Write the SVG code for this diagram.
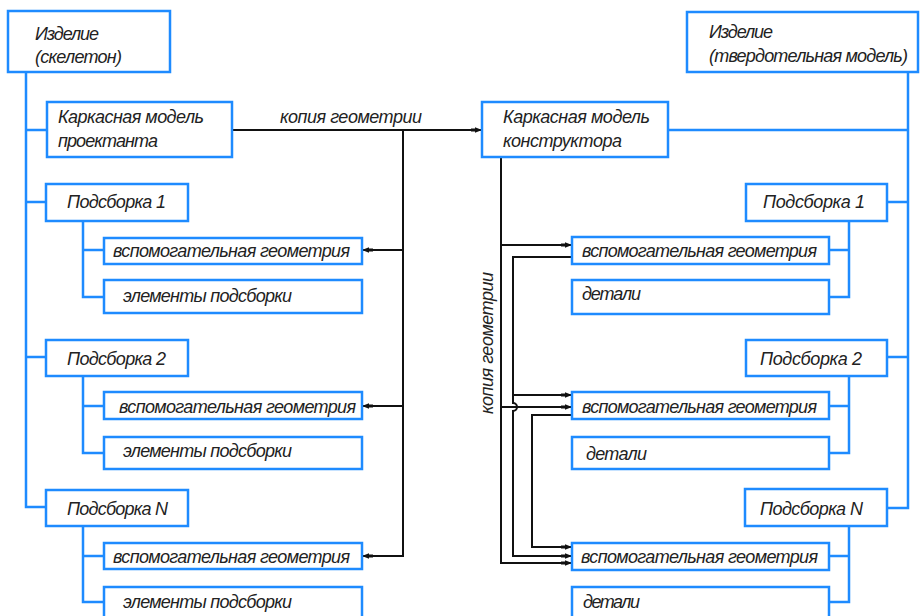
<svg xmlns="http://www.w3.org/2000/svg" width="920" height="616" viewBox="0 0 920 616">
<style>
.box{fill:#fff;stroke:#1e8bff;stroke-width:2.5}
.tree{fill:none;stroke:#1e8bff;stroke-width:2.5}
.ln{fill:none;stroke:#111;stroke-width:2}
text{font-family:"Liberation Sans",Arial,sans-serif;font-style:italic;font-size:18px;fill:#222}
</style>
<defs>
<marker id="ah" markerUnits="userSpaceOnUse" markerWidth="11" markerHeight="6" refX="11" refY="3" orient="auto">
<path d="M0,1.5 L4,1.5 L4,0.3 L11,3 L4,5.7 L4,4.5 L0,4.5 z" fill="#111"/>
</marker>
</defs>
<rect width="920" height="616" fill="#fff"/>
<g id="connectors">
<path class="tree" d="M26,72 V507 H46 M26,130 H47 M26,202 H46 M26,357 H46"/>
<path class="tree" d="M83,221 V297 H104 M83,250 H104"/>
<path class="tree" d="M83,376 V453 H104 M83,406 H104"/>
<path class="tree" d="M83,526 V602 H104 M83,556 H104"/>
<path class="tree" d="M908,72 V508 H887 M668,130 H908 M887,202 H908 M887,357 H908"/>
<path class="tree" d="M849,221 V297 H829 M849,250 H829"/>
<path class="tree" d="M849,376 V453 H829 M849,406 H829"/>
<path class="tree" d="M849,526 V602 H829 M849,556 H829"/>
<path class="ln" d="M232,130 H482" marker-end="url(#ah)"/>
<path class="ln" d="M403,130 V556 H362" marker-end="url(#ah)"/>
<path class="ln" d="M403,250 H362" marker-end="url(#ah)"/>
<path class="ln" d="M403,406 H362" marker-end="url(#ah)"/>
<path class="ln" d="M501,157 V563 H572" marker-end="url(#ah)"/>
<path class="ln" d="M501,245 H572" marker-end="url(#ah)"/>
<path class="ln" d="M501,407 H572" marker-end="url(#ah)"/>
<path class="ln" d="M572,257 H513 V403 A4,4 0 0 1 513,411 V556 H572" marker-end="url(#ah)"/>
<path class="ln" d="M513,395 H572" marker-end="url(#ah)"/>
<path class="ln" d="M572,415 H532 V547 H572" marker-end="url(#ah)"/>
<text x="280" y="123" textLength="142" lengthAdjust="spacing">копия геометрии</text>
<text transform="translate(493,343) rotate(-90)" text-anchor="middle" textLength="142" lengthAdjust="spacing">копия геометрии</text>
</g>
<g id="izdelie-skeleton">
<rect class="box" x="8" y="11" width="162" height="61"/>
<text x="35" y="40" textLength="64" lengthAdjust="spacing">Изделие</text>
<text x="35" y="63" textLength="87" lengthAdjust="spacing">(скелетон)</text>
</g>
<g id="karkas-proektant">
<rect class="box" x="47" y="102" width="185" height="55"/>
<text x="58" y="123" textLength="146" lengthAdjust="spacing">Каркасная модель</text>
<text x="58" y="147" textLength="100" lengthAdjust="spacing">проектанта</text>
</g>
<g id="L-sub1">
<rect class="box" x="46" y="184" width="142" height="37"/>
<text x="67" y="208" textLength="99" lengthAdjust="spacing">Подсборка 1</text>
</g>
<g id="L-geo1">
<rect class="box" x="104" y="238" width="258" height="26"/>
<text x="113" y="257" textLength="237" lengthAdjust="spacing">вспомогательная геометрия</text>
</g>
<g id="L-el1">
<rect class="box" x="104" y="280" width="258" height="33"/>
<text x="123" y="302" textLength="169" lengthAdjust="spacing">элементы подсборки</text>
</g>
<g id="L-sub2">
<rect class="box" x="46" y="340" width="142" height="36"/>
<text x="67" y="365" textLength="99" lengthAdjust="spacing">Подсборка 2</text>
</g>
<g id="L-geo2">
<rect class="box" x="104" y="392" width="258" height="27"/>
<text x="119" y="413" textLength="237" lengthAdjust="spacing">вспомогательная геометрия</text>
</g>
<g id="L-el2">
<rect class="box" x="104" y="437" width="258" height="32"/>
<text x="123" y="457" textLength="169" lengthAdjust="spacing">элементы подсборки</text>
</g>
<g id="L-subN">
<rect class="box" x="46" y="490" width="142" height="36"/>
<text x="67" y="515" textLength="101" lengthAdjust="spacing">Подсборка N</text>
</g>
<g id="L-geoN">
<rect class="box" x="104" y="543" width="258" height="26"/>
<text x="113" y="563" textLength="237" lengthAdjust="spacing">вспомогательная геометрия</text>
</g>
<g id="L-elN">
<rect class="box" x="104" y="587" width="258" height="35"/>
<text x="123" y="608" textLength="169" lengthAdjust="spacing">элементы подсборки</text>
</g>
<g id="izdelie-solid">
<rect class="box" x="687" y="12" width="231" height="60"/>
<text x="709" y="38" textLength="64" lengthAdjust="spacing">Изделие</text>
<text x="709" y="62" textLength="199" lengthAdjust="spacing">(твердотельная модель)</text>
</g>
<g id="karkas-konstruktor">
<rect class="box" x="482" y="102" width="186" height="55"/>
<text x="503" y="123" textLength="147" lengthAdjust="spacing">Каркасная модель</text>
<text x="503" y="147" textLength="119" lengthAdjust="spacing">конструктора</text>
</g>
<g id="R-sub1">
<rect class="box" x="746" y="184" width="141" height="37"/>
<text x="763" y="208" textLength="102" lengthAdjust="spacing">Подсборка 1</text>
</g>
<g id="R-geo1">
<rect class="box" x="572" y="237" width="257" height="27"/>
<text x="582" y="257" textLength="235" lengthAdjust="spacing">вспомогательная геометрия</text>
</g>
<g id="R-det1">
<rect class="box" x="572" y="280" width="257" height="34"/>
<text x="582" y="300" textLength="59" lengthAdjust="spacing">детали</text>
</g>
<g id="R-sub2">
<rect class="box" x="746" y="340" width="141" height="36"/>
<text x="760" y="365" textLength="102" lengthAdjust="spacing">Подсборка 2</text>
</g>
<g id="R-geo2">
<rect class="box" x="572" y="392" width="257" height="27"/>
<text x="582" y="413" textLength="235" lengthAdjust="spacing">вспомогательная геометрия</text>
</g>
<g id="R-det2">
<rect class="box" x="572" y="437" width="257" height="32"/>
<text x="586" y="460" textLength="61" lengthAdjust="spacing">детали</text>
</g>
<g id="R-subN">
<rect class="box" x="745" y="489" width="142" height="37"/>
<text x="760" y="515" textLength="103" lengthAdjust="spacing">Подсборка N</text>
</g>
<g id="R-geoN">
<rect class="box" x="572" y="543" width="257" height="27"/>
<text x="581" y="563" textLength="237" lengthAdjust="spacing">вспомогательная геометрия</text>
</g>
<g id="R-detN">
<rect class="box" x="572" y="587" width="257" height="35"/>
<text x="583" y="608" textLength="57" lengthAdjust="spacing">детали</text>
</g>
</svg>
